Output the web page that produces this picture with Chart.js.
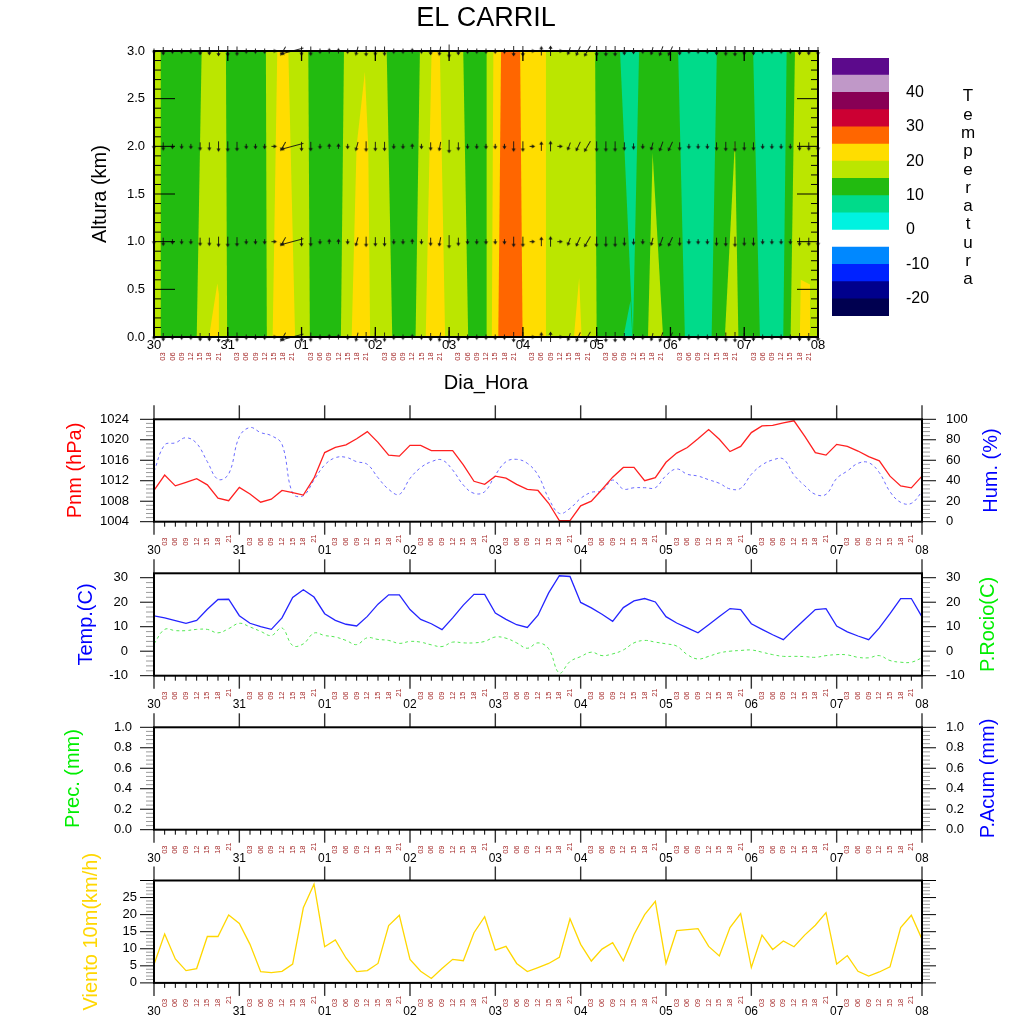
<!DOCTYPE html>
<html>
<head>
<meta charset="utf-8">
<title>EL CARRIL</title>
<script src="https://cdn.jsdelivr.net/npm/chart.js@4.4.1/dist/chart.umd.min.js"></script>
<style>
  html, body { margin: 0; padding: 0; background: #fff; }
  #wrap { position: relative; width: 1024px; height: 1024px; }
  #wrap canvas { position: absolute; left: 0; top: 0; }
</style>
</head>
<body>
<div id="wrap">
  <canvas id="cAltura" width="1024" height="1024"></canvas>
  <canvas id="cEscala" width="1024" height="1024"></canvas>
  <canvas id="cPres" width="1024" height="1024"></canvas>
  <canvas id="cTemp" width="1024" height="1024"></canvas>
  <canvas id="cPrec" width="1024" height="1024"></canvas>
  <canvas id="cViento" width="1024" height="1024"></canvas>
</div>
<script>
// ---- datos ----
const dias = ['30', '31', '01', '02', '03', '04', '05', '06', '07', '08'];
const horasDia = ['00', '03', '06', '09', '12', '15', '18', '21'];

// eje de tiempo cada 3 h, desde el 30 00h hasta el 08 00h
const horas = [];
const etiqHora = [];
dias.forEach((d, i) => {
  horasDia.forEach((h, j) => {
    if (i < dias.length - 1 || j === 0) {
      horas.push(i * 24 + j * 3);
      etiqHora.push(h);
    }
  });
});

const pnm = [1010.1, 1013.1, 1011.0, 1011.7, 1012.4, 1011.2, 1008.6, 1008.1, 1010.7, 1009.4,
  1007.8, 1008.4, 1010.1, 1009.7, 1009.2, 1012.5, 1017.5, 1018.5, 1019.0, 1020.2,
  1021.6, 1019.5, 1017.0, 1016.8, 1018.9, 1018.9, 1017.9, 1017.9, 1017.9, 1015.1,
  1011.9, 1011.3, 1012.9, 1012.5, 1011.3, 1010.3, 1010.1, 1007.6, 1004.2, 1004.2,
  1007.1, 1008.0, 1010.3, 1012.7, 1014.6, 1014.6, 1012.0, 1012.6, 1015.6, 1017.4,
  1018.5, 1020.2, 1022.0, 1020.1, 1017.7, 1018.7, 1021.4, 1022.7, 1022.8, 1023.3,
  1023.7, 1020.7, 1017.5, 1017.0, 1019.1, 1018.7, 1017.8, 1016.7, 1015.9, 1012.9,
  1011.0, 1010.6, 1012.9];

const humedad = [49, 75, 77, 82, 76.5, 58.6, 41.4, 46.6, 83, 92,
  87, 84, 75.6, 27.7, 25.4, 40.7, 55.4, 62.5, 62.9, 58.6,
  56, 43, 31.6, 26.7, 42.3, 52.8, 58.6, 60.3, 50.5, 35.8,
  27.7, 29.3, 45.6, 58.6, 60.9, 57, 45.6, 22.8, 8.1, 13,
  22.8, 28.7, 30, 40.7, 31.9, 33.2, 33.2, 33.2, 45, 51.5,
  46.3, 44.6, 41, 37.5, 32, 32.6, 46.3, 55.4, 60.3, 61.2,
  45.6, 35.2, 26.7, 26.7, 42.3, 49.5, 57, 57.7, 47.9, 29.3,
  18.9, 17.9, 29.3];

const temperatura = [14.4, 13.6, 12.5, 11.4, 12.6, 17.1, 21.1, 21.2, 14.5, 11.4,
  10.0, 8.9, 13.6, 21.9, 25.1, 22.1, 15.3, 12.6, 11.0, 10.3,
  14.2, 19.2, 23.0, 23.0, 17.0, 13.0, 11.2, 8.8, 13.6, 18.8,
  23.2, 23.2, 15.6, 13.0, 10.8, 9.7, 14.7, 23.8, 30.8, 30.5,
  19.9, 17.7, 15.1, 12.2, 17.8, 20.5, 21.5, 20.1, 14.1, 11.5,
  9.5, 7.5, 10.8, 14.2, 17.4, 17.0, 11.2, 8.9, 6.7, 4.7,
  8.9, 12.9, 17.0, 17.4, 10.3, 7.9, 6.2, 4.7, 9.5, 15.3,
  21.5, 21.5, 14.0];

const rocio = [3.0, 8.9, 8.4, 8.4, 8.9, 8.9, 7.5, 9.2, 11.4, 9.9,
  8.1, 6.4, 9.5, 2.3, 3.0, 7.4, 6.4, 5.8, 4.4, 2.7,
  5.5, 4.8, 4.4, 3.2, 4.0, 3.7, 2.6, 1.9, 3.7, 3.4,
  3.4, 4.0, 5.8, 5.3, 3.4, 1.2, 3.4, 1.0, -8.9, -4.2,
  -2.2, -0.4, -1.8, -1.1, 0.5, 3.4, 4.4, 3.7, 3.0, 2.1,
  -1.4, -3.2, -2.1, -0.7, 0, 0.3, 0.5, -0.4, -1.4, -2.1,
  -2.1, -2.2, -2.5, -1.8, -1.4, -1.5, -2.5, -2.7, -1.8, -3.8,
  -4.5, -4.5, -2.7];

const viento = [5.4, 14.3, 7.0, 3.6, 4.2, 13.6, 13.6, 19.9, 17.4, 11.3,
  3.3, 3.0, 3.4, 5.5, 22.0, 28.9, 10.6, 12.6, 7.3, 3.3,
  3.6, 5.7, 16.8, 19.8, 6.9, 3.4, 1.3, 4.2, 6.9, 6.5,
  14.7, 19.4, 9.6, 10.7, 5.7, 3.3, 4.5, 5.7, 7.5, 18.8,
  11.3, 6.4, 9.9, 11.8, 6.5, 14.2, 20.0, 23.9, 5.7, 15.3,
  15.6, 15.9, 10.7, 7.9, 16.2, 20.3, 4.5, 14.0, 9.8, 12.3,
  10.6, 14.0, 16.9, 20.6, 5.5, 8.0, 3.4, 2.0, 3.2, 4.7,
  16.2, 19.8, 12.8];

// sin precipitacion en el periodo
const prec = [];
const precAcum = [];

// viento en altura (flechas): intensidad y direccion de procedencia (grados)
const vientoAltVel = [1, 2, 1, 1, 1, 2, 2, 3, 3, 2.5, 1, 1, 1, 1, 3, 8, 2.5, 2.5, 1, 1,
  1, 1, 2.5, 3, 2.5, 2.5, 1, 1, 1, 1, 2, 2.5, 4, 2, 1, 1, 1, 1, 1, 3,
  3, 1, 2.5, 3, 1, 2, 3, 3.5, 3, 3, 3, 2, 1.5, 1, 2, 3, 3, 2, 1, 1,
  1, 2, 2.5, 3, 2, 2, 1, 1, 1, 1, 2, 2, 2];
const vientoAltDir = [0, 0, 0, 0, 0, 0, 0, 0, 0, 0, 0, 0, 0, 270, 30, 75, 0, 0, 0, 180,
  180, 0, 15, 0, 0, 0, 0, 0, 180, 0, 0, 10, 0, 0, 0, 0, 0, 0, 0, 0,
  0, 270, 180, 180, 270, 20, 25, 30, 0, 0, 0, 0, 0, 0, 15, 20, 25, 0, 0, 0,
  0, 0, 0, 0, 0, 0, 0, 0, 0, 0, 0, 0, 0];
const nivelesFlecha = [0, 1, 2, 3];

// corte tiempo-altura de temperatura: franjas (borde inferior / superior en horas)
const franjaInf = [0, 2.2, 13.9, 23.8, 36.7, 38.6, 45.9, 50.7, 60.8, 77.5, 85.1, 88.4, 94.7, 102.2,
  108.2, 109.9, 112.0, 119.9, 127.5, 144.0, 155.8, 155.8, 172.7, 181.4, 197.1, 204.7, 207.1];
const franjaSup = [0, 2.2, 15.5, 23.4, 36.4, 40.1, 43.7, 50.2, 61.8, 75.7, 86.5, 90.3, 93.0, 100.6,
  108.2, 110.4, 112.9, 119.1, 127.5, 143.5, 151.6, 157.8, 170.5, 183.1, 194.9, 205.8, 208.5];
const franjaTemp = [17, 12, 17, 12, 17, 22, 17, 12, 17, 12, 17, 22, 17, 12,
  17, 22, 27, 22, 17, 12, 7, 12, 7, 12, 7, 12, 17];
// manchas sueltas (lenguas de aire mas calido/frio)
const manchaTemp = [22, 22, 22, 7, 17, 17, 22];
const manchaHoras = [[17.9, 21.1, 21.1, 20.6], [64.3, 70.3, 69.7, 68.6, 65.9], [136.6, 139.1, 138.3],
  [152.7, 155.6, 155.0], [160.7, 165.6, 162.2], [185.7, 190.1, 189.0], [210.1, 213.4, 213.4, 210.4]];
const manchaKm = [[0, 0, 0.45, 0.56], [0, 0, 2.0, 2.78, 2.0], [0, 0, 0.62],
  [0, 0, 0.38], [0, 0, 1.93], [0, 0, 2.07], [0, 0, 0.55, 0.6]];

const nivelesTemp = [-20, -15, -10, -5, 0, 5, 10, 15, 20, 25, 30, 35, 40, 45];
const coloresTemp = ['#000050', '#00008c', '#0022ff', '#0088ff', '#ffffff', '#00f2e0', '#00db8a',
  '#22bb10', '#bbe600', '#ffdd00', '#ff6600', '#cc0033', '#880055', '#c098c8', '#5c0a8c'];
const etiqEscala = [-20, -10, 0, 10, 20, 30, 40];

// ---- utilidades ----
const FUENTE = "'Liberation Sans', Arial, Helvetica, sans-serif";
Chart.defaults.font.family = FUENTE;
Chart.defaults.color = '#000';
Chart.defaults.animation = false;
Chart.defaults.plugins.legend.display = false;
Chart.defaults.plugins.tooltip.enabled = false;

const X_IZQ = 154, X_DER = 922, ALTO_PANEL = 102.4;

function colorTemp(t) {
  let k = 0;
  while (k < nivelesTemp.length && t >= nivelesTemp[k]) k++;
  return coloresTemp[k];
}

function linea(ctx, x1, y1, x2, y2, color, w) {
  ctx.strokeStyle = color;
  ctx.lineWidth = w;
  ctx.beginPath();
  ctx.moveTo(x1, y1);
  ctx.lineTo(x2, y2);
  ctx.stroke();
}

// marcas de un eje vertical: mayores negras, menores grises
function marcasY(ctx, scale, x, dir, e, largoMayor, largoMenor, colorMenor) {
  for (let k = 0; ; k++) {
    const v = e.min + k * e.menor;
    if (v > e.max + 1e-6) break;
    const y = scale.getPixelForValue(v);
    const r = v / e.mayor;
    const mayor = Math.abs(r - Math.round(r)) < 1e-4;
    linea(ctx, x, y, x + dir * (mayor ? largoMayor : largoMenor), y, mayor ? '#000' : colorMenor, 1);
  }
}

function etiquetasHora(ctx, sx, y, sube21) {
  ctx.font = '7.5px ' + FUENTE;
  ctx.fillStyle = '#a52a2a';
  ctx.textAlign = 'center';
  ctx.textBaseline = 'middle';
  horas.forEach((h, i) => {
    if (etiqHora[i] === '00') return;
    const yy = y - (sube21 && etiqHora[i] === '21' ? 3 : 0);
    ctx.save();
    ctx.translate(sx.getPixelForValue(h), yy);
    ctx.rotate(-Math.PI / 2);
    ctx.fillText(etiqHora[i], 0, 0);
    ctx.restore();
  });
}

function ejeDias(font, pad, alto) {
  return {
    type: 'linear', min: 0, max: 216, position: 'bottom',
    grid: { display: false, drawTicks: false }, border: { display: false },
    afterBuildTicks: s => { s.ticks = dias.map((d, i) => ({ value: i * 24 })); },
    ticks: { callback: v => dias[Math.round(v / 24)], font: { size: font }, padding: pad, maxRotation: 0, autoSkip: false },
    afterFit: s => { s.height = alto; }
  };
}

// ---- corte tiempo-altura ----
function flecha(vel) {
  const largo = 2 + vel * 2.6;
  const c = document.createElement('canvas');
  c.width = Math.ceil(largo) + 4;
  c.height = 7;
  const g = c.getContext('2d');
  const x1 = c.width - 1.5;
  g.strokeStyle = '#111';
  g.fillStyle = '#111';
  g.lineWidth = 0.9;
  g.beginPath(); g.moveTo(2, 3.5); g.lineTo(x1 - 2, 3.5); g.stroke();
  g.beginPath(); g.moveTo(x1, 3.5); g.lineTo(x1 - 3.2, 1.6); g.lineTo(x1 - 3.2, 5.4); g.closePath(); g.fill();
  return c;
}

const dsAltura = [];
franjaInf.forEach((xb, i) => {
  dsAltura.push({
    data: [{ x: xb, y: 0 }, { x: 216, y: 0 }, { x: 216, y: 3 }, { x: franjaSup[i], y: 3 }],
    fill: 'shape', backgroundColor: colorTemp(franjaTemp[i]), borderWidth: 0, pointRadius: 0,
    order: 1000 - i
  });
});
manchaTemp.forEach((t, i) => {
  dsAltura.push({
    data: manchaHoras[i].map((h, k) => ({ x: h, y: manchaKm[i][k] })),
    fill: 'shape', backgroundColor: colorTemp(t), borderWidth: 0, pointRadius: 0, order: 10
  });
});
const ptsFlecha = [], estFlecha = [], rotFlecha = [];
nivelesFlecha.forEach(n => {
  horas.forEach((h, i) => {
    ptsFlecha.push({ x: h, y: n });
    estFlecha.push(flecha(vientoAltVel[i]));
    rotFlecha.push(vientoAltDir[i] + 90);
  });
});
dsAltura.push({
  data: ptsFlecha, showLine: false, pointStyle: estFlecha, pointRotation: rotFlecha,
  pointRadius: 3, clip: 8, order: 1
});

const marcoAltura = {
  id: 'marcoAltura',
  afterDraw(chart) {
    const { ctx, chartArea: a } = chart;
    const sx = chart.scales.x, sy = chart.scales.y;
    const e = { min: 0, max: 3, mayor: 0.5, menor: 0.1 };
    ctx.save();
    marcasY(ctx, sy, a.left, 1, e, 21, 7, '#000');
    marcasY(ctx, sy, a.right, -1, e, 21, 7, '#000');
    dias.forEach((d, i) => {
      const x = sx.getPixelForValue(i * 24);
      linea(ctx, x, a.bottom, x, a.bottom - 10, '#000', 1.3);
      linea(ctx, x, a.top, x, a.top + 10, '#000', 1.3);
    });
    etiquetasHora(ctx, sx, a.bottom + 19.5, false);
    ctx.strokeStyle = '#000';
    ctx.lineWidth = 2;
    ctx.strokeRect(a.left, a.top, a.width, a.height);
    ctx.restore();
  }
};

new Chart(document.getElementById('cAltura'), {
  type: 'line',
  data: { datasets: dsAltura },
  options: {
    responsive: false,
    layout: { padding: { left: 84, right: 136, top: 0, bottom: 625 } },
    plugins: {
      title: { display: true, text: 'EL CARRIL', color: '#000', font: { size: 27, weight: 'normal' }, padding: { top: 2, bottom: 16.6 } }
    },
    scales: {
      x: Object.assign(ejeDias(13, 1, 62), {
        title: { display: true, text: 'Dia_Hora', font: { size: 20 }, padding: { top: 4, bottom: 4 } }
      }),
      y: {
        type: 'linear', min: 0, max: 3, position: 'left',
        grid: { display: false, drawTicks: false }, border: { display: false },
        afterBuildTicks: s => { s.ticks = [0, 0.5, 1, 1.5, 2, 2.5, 3].map(v => ({ value: v })); },
        ticks: { callback: v => v.toFixed(1), font: { size: 13 }, padding: 9 },
        title: { display: true, text: 'Altura (km)', font: { size: 20 }, padding: { top: 4, bottom: 4 } },
        afterFit: s => { s.width = 70; }
      },
      yR: {
        type: 'linear', min: 0, max: 3, position: 'right',
        grid: { display: false, drawTicks: false }, border: { display: false },
        ticks: { display: false },
        afterFit: s => { s.width = 70; }
      }
    }
  },
  plugins: [marcoAltura]
});

// ---- escala de colores ----
const letrasEscala = {
  id: 'letrasEscala',
  afterDraw(chart) {
    const ctx = chart.ctx;
    ctx.save();
    ctx.font = '17px ' + FUENTE;
    ctx.fillStyle = '#000';
    ctx.textAlign = 'center';
    ctx.textBaseline = 'middle';
    'Temperatura'.split('').forEach((c, i) => ctx.fillText(c, 968, 96.7 + i * 18.3));
    ctx.restore();
  }
};

new Chart(document.getElementById('cEscala'), {
  type: 'bar',
  data: {
    labels: ['T'],
    datasets: coloresTemp.map((c, i) => ({
      data: [[i === 0 ? -25 : nivelesTemp[i - 1], i === coloresTemp.length - 1 ? 50 : nivelesTemp[i]]],
      backgroundColor: c, borderWidth: 0, barPercentage: 1, categoryPercentage: 1, grouped: false
    }))
  },
  options: {
    responsive: false,
    layout: { padding: { left: 832, right: 85, top: 58, bottom: 708 } },
    scales: {
      x: { display: false },
      y: {
        min: -25, max: 50, position: 'right',
        grid: { display: false, drawTicks: false }, border: { display: false },
        afterBuildTicks: s => { s.ticks = etiqEscala.map(v => ({ value: v })); },
        ticks: { font: { size: 16 }, padding: 17 },
        afterFit: s => { s.width = 50; }
      }
    }
  },
  plugins: [letrasEscala]
});

// ---- paneles de superficie ----
function panel(idCanvas, arriba, izq, der, datasets) {
  const marco = {
    id: 'marcoPanel',
    afterDraw(chart) {
      const { ctx, chartArea: a } = chart;
      const sx = chart.scales.x;
      ctx.save();
      marcasY(ctx, chart.scales.y, a.left, -1, izq, 14, 8, '#9a9a9a');
      marcasY(ctx, chart.scales.y2, a.right, 1, der, 14, 8, '#9a9a9a');
      horas.forEach((h, i) => {
        const x = sx.getPixelForValue(h);
        const mayor = etiqHora[i] === '00';
        linea(ctx, x, a.bottom, x, a.bottom + (mayor ? 13 : 5), mayor ? '#333' : '#000', mayor ? 1.4 : 1);
        if (mayor) linea(ctx, x, a.top, x, a.top - 14, '#333', 1.4);
      });
      etiquetasHora(ctx, sx, a.bottom + 20, true);
      if (der.titulo) {
        ctx.save();
        ctx.font = '20px ' + FUENTE;
        ctx.fillStyle = der.color;
        ctx.textAlign = 'center';
        ctx.textBaseline = 'middle';
        ctx.translate(der.tituloX, (a.top + a.bottom) / 2);
        ctx.rotate(-Math.PI / 2);
        ctx.fillText(der.titulo, 0, 0);
        ctx.restore();
      }
      ctx.strokeStyle = '#000';
      ctx.lineWidth = 2;
      ctx.strokeRect(a.left, a.top, a.width, a.height);
      ctx.restore();
    }
  };
  const ejeY = (e, pos, ancho) => ({
    type: 'linear', min: e.min, max: e.max, position: pos,
    grid: { display: false, drawTicks: false }, border: { display: false },
    afterBuildTicks: s => { s.ticks = e.ticks.map(v => ({ value: v })); },
    ticks: { display: e.etiquetas !== false, callback: e.fmt, font: { size: 13 }, padding: e.pad },
    afterFit: s => { s.width = ancho; }
  });
  const yIzq = ejeY(izq, 'left', X_IZQ - (izq.tituloX - 16));
  yIzq.title = { display: true, text: izq.titulo, color: izq.color, font: { size: 20 }, padding: { top: 4, bottom: 4 } };
  new Chart(document.getElementById(idCanvas), {
    type: 'line',
    data: { datasets },
    options: {
      responsive: false,
      layout: { padding: { left: izq.tituloX - 16, right: 1024 - X_DER - 60, top: arriba, bottom: 1024 - arriba - ALTO_PANEL - 40 } },
      scales: { x: ejeDias(12, 21.8, 40), y: yIzq, y2: ejeY(der, 'right', 60) }
    },
    plugins: [marco]
  });
}

const xy = serie => serie.map((v, i) => ({ x: horas[i], y: v }));
const fmt1 = v => v.toFixed(1);

panel('cPres', 419.3,
  { min: 1004, max: 1024, mayor: 4, menor: 0.8, ticks: [1004, 1008, 1012, 1016, 1020, 1024], pad: 25, titulo: 'Pnm (hPa)', color: '#ff0000', tituloX: 75 },
  { min: 0, max: 100, mayor: 20, menor: 4, ticks: [0, 20, 40, 60, 80, 100], pad: 24, titulo: 'Hum. (%)', color: '#0000ff', tituloX: 991 },
  [
    { label: 'Pnm', data: xy(pnm), yAxisID: 'y', borderColor: '#ff2020', borderWidth: 1.3, pointRadius: 0, tension: 0 },
    { label: 'Hum', data: xy(humedad), yAxisID: 'y2', borderColor: '#6b6bff', borderWidth: 1, borderDash: [3, 3], pointRadius: 0, tension: 0.4 }
  ]);

panel('cTemp', 573.3,
  { min: -10, max: 31.8, mayor: 10, menor: 2, ticks: [-10, 0, 10, 20, 30], pad: 26, titulo: 'Temp.(C)', color: '#0000ff', tituloX: 86 },
  { min: -10, max: 31.8, mayor: 10, menor: 2, ticks: [-10, 0, 10, 20, 30], pad: 24, titulo: 'P.Rocio(C)', color: '#00ee00', tituloX: 988 },
  [
    { label: 'Temp', data: xy(temperatura), yAxisID: 'y', borderColor: '#2424ff', borderWidth: 1.3, pointRadius: 0, tension: 0 },
    { label: 'Rocio', data: xy(rocio), yAxisID: 'y2', borderColor: '#55e855', borderWidth: 1, borderDash: [3, 3], pointRadius: 0, tension: 0.4 }
  ]);

panel('cPrec', 727.3,
  { min: 0, max: 1, mayor: 0.2, menor: 0.04, ticks: [0, 0.2, 0.4, 0.6, 0.8, 1], fmt: fmt1, pad: 22, titulo: 'Prec. (mm)', color: '#00ee00', tituloX: 73 },
  { min: 0, max: 1, mayor: 0.2, menor: 0.04, ticks: [0, 0.2, 0.4, 0.6, 0.8, 1], fmt: fmt1, pad: 24, titulo: 'P.Acum (mm)', color: '#0000ff', tituloX: 988 },
  [
    { label: 'Prec', data: xy(prec), yAxisID: 'y', borderColor: '#00ee00', borderWidth: 1.3, pointRadius: 0 },
    { label: 'PAcum', data: xy(precAcum), yAxisID: 'y2', borderColor: '#0000ff', borderWidth: 1.3, pointRadius: 0 }
  ]);

panel('cViento', 880.5,
  { min: 0, max: 30, mayor: 5, menor: 1, ticks: [0, 5, 10, 15, 20, 25], pad: 17, titulo: 'Viento 10m(km/h)', color: '#ffd700', tituloX: 91 },
  { min: 0, max: 30, mayor: 5, menor: 1, ticks: [0, 5, 10, 15, 20, 25], pad: 24, etiquetas: false },
  [
    { label: 'Viento', data: xy(viento), yAxisID: 'y', borderColor: '#ffd700', borderWidth: 1.3, pointRadius: 0, tension: 0 }
  ]);
</script>
</body>
</html>
